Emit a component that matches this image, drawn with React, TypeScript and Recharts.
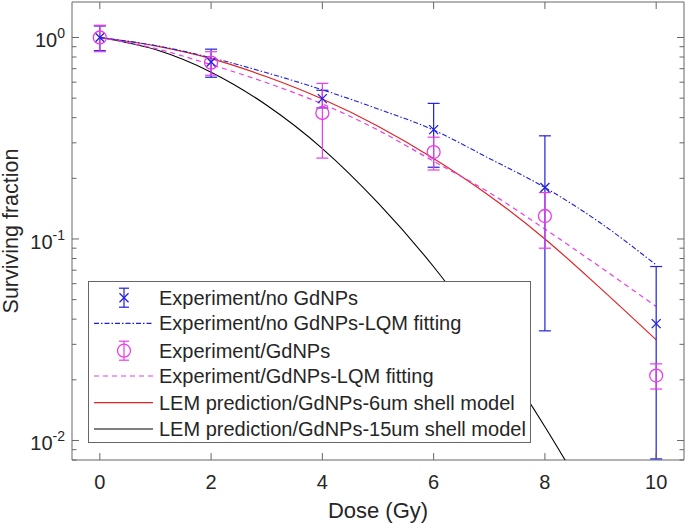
import React from 'react';
import {
    ComposedChart,
    Line,
    Scatter,
    ErrorBar,
    XAxis,
    YAxis,
    ReferenceArea,
    Legend,
} from 'recharts';

// Model curves, read at every Gy
const DOSES = [0, 1, 2, 3, 4, 5, 6, 7, 8, 9, 10];
const LQM_NO_GDNPS = [1, 0.912, 0.794, 0.668, 0.55, 0.442, 0.347, 0.251, 0.18, 0.12, 0.0743];
const LQM_GDNPS = [1, 0.881, 0.733, 0.596, 0.468, 0.347, 0.243, 0.17, 0.112, 0.0724, 0.0462];
const LEM_6UM = [1, 0.908, 0.785, 0.638, 0.495, 0.363, 0.251, 0.164, 0.1, 0.0569, 0.0316];
const LEM_15UM = [1, 0.871, 0.673, 0.461, 0.281, 0.151, 0.0728, 0.0309, 0.0117, 0.004, null];

// Measured points: mean, lower and upper error
// (the lower bar at 10 Gy runs past the axis, so it stops at the bottom edge)
const EXP_DOSES = [0, 2, 4, 6, 8, 10];
const NO_GDNPS_SF = [1.0, 0.755, 0.497, 0.349, 0.18, 0.038];
const NO_GDNPS_LOW = [0.14, 0.12, 0.05, 0.122, 0.145, 0.0299];
const NO_GDNPS_HIGH = [0.14, 0.12, 0.05, 0.122, 0.145, 0.035];
const GDNPS_SF = [1.0, 0.75, 0.422, 0.27, 0.13, 0.021];
const GDNPS_SD = [0.15, 0.1, 0.17, 0.05, 0.04, 0.003];

const X_TICKS = [0, 2, 4, 6, 8, 10];
const Y_MAJOR = [0.01, 0.1, 1];
const Y_MINOR = [0.008, 0.009, 0.02, 0.03, 0.04, 0.05, 0.06, 0.07, 0.08, 0.09, 0.2, 0.3, 0.4, 0.5, 0.6, 0.7, 0.8, 0.9];
const Y_LABELS: Record<string, string> = { '0.01': '-2', '0.1': '-1', '1': '0' };

const BLUE = '#1f1fe0';
const MAGENTA = '#ea3bea';
const RED = '#e02424';
const BLACK = '#000000';
const AXIS = '#666666';
const TEXT = '#262626';
const FONT = '"Liberation Sans", Arial, sans-serif';

// plot box in pixels
const PLOT_LEFT = 72;
const PLOT_RIGHT = 684;
const PLOT_TOP = 2;
const PLOT_BOTTOM = 460;

const curveData = DOSES.map((d, i) => ({
    dose: d,
    lqmNo: LQM_NO_GDNPS[i],
    lqmGd: LQM_GDNPS[i],
    lem6: LEM_6UM[i],
    lem15: LEM_15UM[i],
}));

const noGdData = EXP_DOSES.map((d, i) => ({
    dose: d,
    sf: NO_GDNPS_SF[i],
    err: [NO_GDNPS_LOW[i], NO_GDNPS_HIGH[i]],
}));
const gdData = EXP_DOSES.map((d, i) => ({ dose: d, sf: GDNPS_SF[i], err: GDNPS_SD[i] }));

function XTick({ x, payload }: any) {
    return (
        <g>
            <line x1={x} x2={x} y1={PLOT_BOTTOM} y2={PLOT_BOTTOM - 7} stroke={AXIS} />
            <line x1={x} x2={x} y1={PLOT_TOP} y2={PLOT_TOP + 7} stroke={AXIS} />
            <text x={x} y={489} textAnchor="middle" fontSize={20} fill={TEXT} fontFamily={FONT}>
                {payload.value}
            </text>
        </g>
    );
}

function YTick({ y, payload }: any) {
    const exp = Y_LABELS[String(payload.value)];
    const len = exp !== undefined ? 7 : 4.5;
    return (
        <g>
            <line x1={PLOT_LEFT} x2={PLOT_LEFT + len} y1={y} y2={y} stroke={AXIS} />
            <line x1={PLOT_RIGHT - len} x2={PLOT_RIGHT} y1={y} y2={y} stroke={AXIS} />
            {exp !== undefined && (
                <text x={65} y={y + 10} textAnchor="end" fontSize={20} fill={TEXT} fontFamily={FONT}>
                    <tspan>10</tspan>
                    <tspan dy={-9} fontSize={14}>{exp}</tspan>
                </text>
            )}
        </g>
    );
}

function YLabel() {
    return (
        <text
            x={18}
            y={231}
            transform="rotate(-90, 18, 231)"
            textAnchor="middle"
            fontSize={21.5}
            fill={TEXT}
            fontFamily={FONT}
        >
            Surviving fraction
        </text>
    );
}

function XLabel() {
    return (
        <text x={378} y={518} textAnchor="middle" fontSize={22} fill={TEXT} fontFamily={FONT}>
            Dose (Gy)
        </text>
    );
}

function Cross({ cx, cy }: any) {
    const s = 4.5;
    return (
        <g stroke={BLUE} strokeWidth={1.3}>
            <line x1={cx - s} y1={cy - s} x2={cx + s} y2={cy + s} />
            <line x1={cx - s} y1={cy + s} x2={cx + s} y2={cy - s} />
        </g>
    );
}

function Circle({ cx, cy }: any) {
    return <circle cx={cx} cy={cy} r={6.5} fill="none" stroke={MAGENTA} strokeWidth={1.3} />;
}

const LEGEND_ROWS = [
    { label: 'Experiment/no GdNPs', kind: 'cross' },
    { label: 'Experiment/no GdNPs-LQM fitting', kind: 'line', color: BLUE, dash: '5 2 1.5 2' },
    { label: 'Experiment/GdNPs', kind: 'circle' },
    { label: 'Experiment/GdNPs-LQM fitting', kind: 'line', color: MAGENTA, dash: '5 4' },
    { label: 'LEM prediction/GdNPs-6um shell model', kind: 'line', color: RED },
    { label: 'LEM prediction/GdNPs-15um shell model', kind: 'line', color: BLACK },
];
const ROW_Y = [15.7, 41.3, 68.7, 94, 120.7, 147];

function LegendBox() {
    return (
        <div
            style={{
                width: 443,
                height: 162,
                background: '#fff',
                border: `1px solid ${AXIS}`,
                boxSizing: 'border-box',
            }}
        >
            <svg width={441} height={160} style={{ display: 'block' }}>
                {LEGEND_ROWS.map((row, i) => {
                    const cy = ROW_Y[i];
                    return (
                        <g key={row.label}>
                            {row.kind === 'line' && (
                                <line
                                    x1={5}
                                    x2={64}
                                    y1={cy}
                                    y2={cy}
                                    stroke={row.color}
                                    strokeWidth={1.2}
                                    strokeDasharray={row.dash}
                                />
                            )}
                            {row.kind !== 'line' && (
                                <g stroke={row.kind === 'cross' ? BLUE : MAGENTA} strokeWidth={1.2}>
                                    <line x1={35} x2={35} y1={cy - 9.5} y2={cy + 9.5} />
                                    <line x1={30} x2={40} y1={cy - 9.5} y2={cy - 9.5} />
                                    <line x1={30} x2={40} y1={cy + 9.5} y2={cy + 9.5} />
                                </g>
                            )}
                            {row.kind === 'cross' && <Cross cx={35} cy={cy} />}
                            {row.kind === 'circle' && <Circle cx={35} cy={cy} />}
                            <text x={70} y={cy + 7} fontSize={20} fill={TEXT} fontFamily={FONT}>
                                {row.label}
                            </text>
                        </g>
                    );
                })}
            </svg>
        </div>
    );
}

export default function App() {
    return (
        <div style={{ position: 'absolute', left: 0, top: 0, background: '#fff' }}>
            <ComposedChart
                width={685}
                height={523}
                data={curveData}
                margin={{ top: 2, right: 1, bottom: 0, left: 0 }}
            >
                <XAxis
                    dataKey="dose"
                    type="number"
                    domain={[-0.5, 10.5]}
                    ticks={X_TICKS}
                    interval={0}
                    height={63}
                    axisLine={false}
                    tickLine={false}
                    tick={<XTick />}
                    label={<XLabel />}
                    allowDataOverflow
                />
                <YAxis
                    scale="log"
                    type="number"
                    domain={[0.008, 1.5]}
                    ticks={[...Y_MINOR, ...Y_MAJOR].sort((a, b) => a - b)}
                    interval={0}
                    width={72}
                    axisLine={false}
                    tickLine={false}
                    tick={<YTick />}
                    label={<YLabel />}
                    allowDataOverflow
                />
                <ReferenceArea
                    x1={-0.5}
                    x2={10.5}
                    y1={0.008}
                    y2={1.5}
                    fill="none"
                    stroke={AXIS}
                    strokeWidth={1}
                    ifOverflow="visible"
                />
                <Line
                    type="monotone"
                    dataKey="lem15"
                    stroke={BLACK}
                    strokeWidth={1.1}
                    dot={false}
                    isAnimationActive={false}
                    connectNulls={false}
                />
                <Line
                    type="monotone"
                    dataKey="lem6"
                    stroke={RED}
                    strokeWidth={1.2}
                    dot={false}
                    isAnimationActive={false}
                />
                <Line
                    type="monotone"
                    dataKey="lqmGd"
                    stroke={MAGENTA}
                    strokeWidth={1.2}
                    strokeDasharray="5 4"
                    dot={false}
                    isAnimationActive={false}
                />
                <Line
                    type="monotone"
                    dataKey="lqmNo"
                    stroke={BLUE}
                    strokeWidth={1.1}
                    strokeDasharray="5 2 1.5 2"
                    dot={false}
                    isAnimationActive={false}
                />
                <Scatter data={noGdData} dataKey="sf" shape={<Cross />} isAnimationActive={false}>
                    <ErrorBar dataKey="err" direction="y" width={6} stroke={BLUE} strokeWidth={1.2} />
                </Scatter>
                <Scatter data={gdData} dataKey="sf" shape={<Circle />} isAnimationActive={false}>
                    <ErrorBar dataKey="err" direction="y" width={6} stroke={MAGENTA} strokeWidth={1.2} />
                </Scatter>
                <Legend
                    layout="horizontal"
                    verticalAlign="middle"
                    align="center"
                    content={<LegendBox />}
                    wrapperStyle={{ position: 'absolute', left: 88, top: 281, width: 443, height: 162 }}
                />
            </ComposedChart>
        </div>
    );
}
